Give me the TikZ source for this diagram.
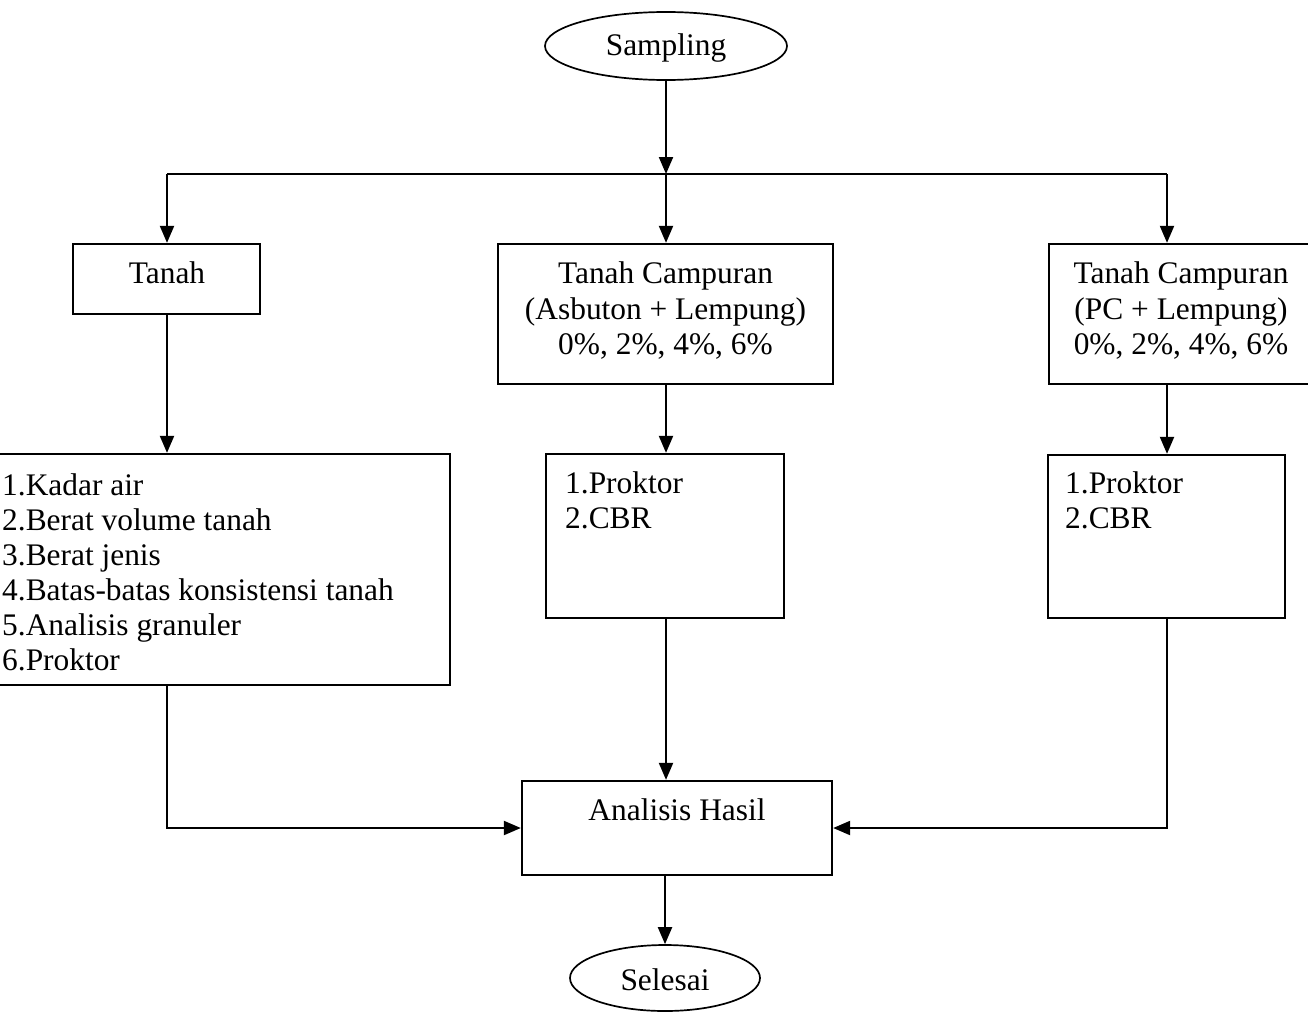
\documentclass[tikz,border=0pt]{standalone}
\usepackage{fontspec}
\setmainfont{Liberation Serif}
\usetikzlibrary{arrows.meta,shapes.geometric,calc}
\begin{document}
\begin{tikzpicture}[x=1pt,y=-1pt,
  txt/.style={font=\fontsize{31.4}{36}\selectfont, inner sep=0pt},
  boxshape/.style={draw, line width=2.3pt, rectangle, inner sep=0pt},
  ovalshape/.style={draw, line width=1.7pt, ellipse, inner sep=0pt},
  conn/.style={line width=2.1pt},
  arr/.style={line width=2.1pt, -{Triangle[length=17pt,width=14pt]}}]
\useasboundingbox (0,0) rectangle (1308,1012);
\clip (0,0) rectangle (1308,1012);
% shapes
\node[ovalshape, minimum width=242pt, minimum height=68pt] (samp) at (666,46) {};
\node[boxshape, minimum width=187pt, minimum height=70pt] (tanah) at (166.5,279) {};
\node[boxshape, minimum width=335pt, minimum height=140pt] (mid) at (665.5,314) {};
\node[boxshape, minimum width=264pt, minimum height=140pt] (right) at (1181,314) {};
\node[boxshape, minimum width=481pt, minimum height=231pt] (llist) at (209.5,569.5) {};
\node[boxshape, minimum width=238pt, minimum height=164pt] (mlist) at (665,536) {};
\node[boxshape, minimum width=237pt, minimum height=163pt] (rlist) at (1166.5,536.5) {};
\node[boxshape, minimum width=310pt, minimum height=94pt] (hasil) at (677,828) {};
\node[ovalshape, minimum width=190pt, minimum height=66pt] (seles) at (665,978) {};
% texts
\node[txt, anchor=base] (tsamp) at (666,55) {Sampling};
\node[txt, anchor=base] (ttanah) at (167,283) {Tanah};
\node[txt, anchor=base] (tm1) at (665.5,283) {Tanah Campuran};
\node[txt, anchor=base] (tm2) at (665.5,319) {(Asbuton + Lempung)};
\node[txt, anchor=base] (tm3) at (665.5,354) {0\%, 2\%, 4\%, 6\%};
\node[txt, anchor=base] (tr1) at (1181,283) {Tanah Campuran};
\node[txt, anchor=base] (tr2) at (1181,319) {(PC + Lempung)};
\node[txt, anchor=base] (tr3) at (1181,354) {0\%, 2\%, 4\%, 6\%};
\node[txt, anchor=base west] (l1) at (2,495) {1.Kadar air};
\node[txt, anchor=base west] (l2) at (2,530) {2.Berat volume tanah};
\node[txt, anchor=base west] (l3) at (2,565) {3.Berat jenis};
\node[txt, anchor=base west] (l4) at (2,600) {4.Batas-batas konsistensi tanah};
\node[txt, anchor=base west] (l5) at (2,635) {5.Analisis granuler};
\node[txt, anchor=base west] (l6) at (2,670) {6.Proktor};
\node[txt, anchor=base west] (m1) at (565,493) {1.Proktor};
\node[txt, anchor=base west] (m2) at (565,528) {2.CBR};
\node[txt, anchor=base west] (r1) at (1065,493) {1.Proktor};
\node[txt, anchor=base west] (r2) at (1065,528) {2.CBR};
\node[txt, anchor=base] (thasil) at (677,820) {Analisis Hasil};
\node[txt, anchor=base] (tseles) at (665,990) {Selesai};
% junctions
\coordinate (jL) at (167,174);
\coordinate (jM) at (666,174);
\coordinate (jR) at (1167,174);
% connectors
\draw[arr] (samp.south) -- (jM);
\draw[conn] (jL) -- (jR);
\draw[arr] (jL) -- (jL |- tanah.north);
\draw[arr] (jM) -- (jM |- mid.north);
\draw[arr] (jR) -- (jR |- right.north);
\draw[arr] (jL |- tanah.south) -- (jL |- llist.north);
\draw[arr] (jM |- mid.south) -- (jM |- mlist.north);
\draw[arr] (jR |- right.south) -- (jR |- rlist.north);
\draw[arr] (jL |- llist.south) -- (jL |- hasil.west) -- (hasil.west);
\draw[arr] (jM |- mlist.south) -- (jM |- hasil.north);
\draw[arr] (jR |- rlist.south) -- (jR |- hasil.east) -- (hasil.east);
\draw[arr] (seles.north |- hasil.south) -- (seles.north);
\end{tikzpicture}
\end{document}
